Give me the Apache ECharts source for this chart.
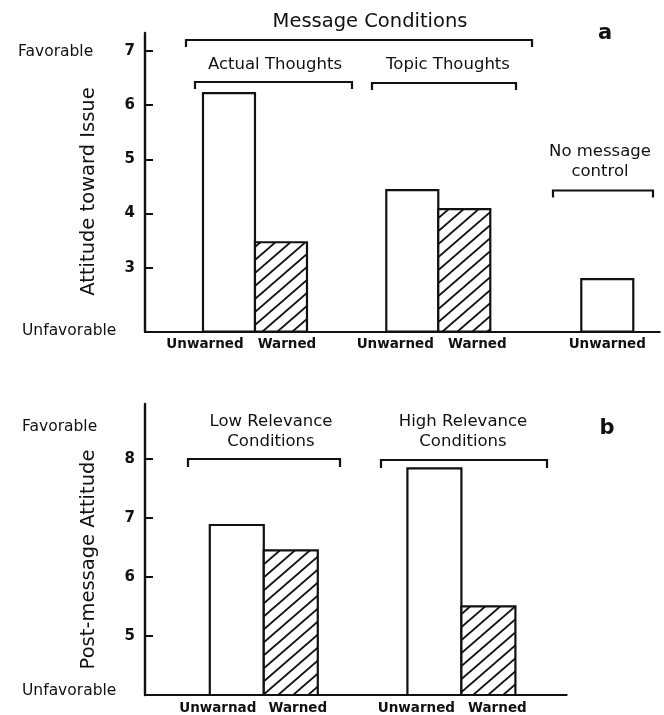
<!DOCTYPE html>
<html>
<head>
<meta charset="utf-8">
<title>Attitude by warning condition</title>
<script src="https://cdn.jsdelivr.net/npm/echarts@6/dist/echarts.min.js"></script>
<style>
  html, body { margin: 0; padding: 0; background: #fff; }
  #chart { width: 664px; height: 715px; }
</style>
</head>
<body>
<div id="chart"></div>
<script>
// ---- Panel a: attitude toward issue ----
const panelABarLabels = ['Unwarned', 'Warned', 'Unwarned', 'Warned', 'Unwarned'];
const panelAValues = [6.22, 3.47, 4.43, 4.08, 2.79];
const panelATicks = [3, 4, 5, 6, 7];
const panelAGroups = ['Actual Thoughts', 'Topic Thoughts', 'No message\ncontrol'];
const panelAOuterGroup = 'Message Conditions';
const panelAAxisName = 'Attitude toward Issue';

// ---- Panel b: post-message attitude ----
const panelBBarLabels = ['Unwarnad', 'Warned', 'Unwarned', 'Warned'];
const panelBValues = [6.88, 6.45, 7.84, 5.50];
const panelBTicks = [5, 6, 7, 8];
const panelBGroups = ['Low Relevance\nConditions', 'High Relevance\nConditions'];
const panelBAxisName = 'Post-message Attitude';

const scaleEnds = ['Favorable', 'Unfavorable'];

// ---- layout (slot positions along the hidden x axis, in bar widths) ----
const panelASlots = [1.615, 2.615, 5.14, 6.14, 8.89];
const panelBSlots = [1.70, 2.70, 5.36, 6.36];
const panelALabelShift = [-24, 6, -17, 13, 0];
const panelBLabelShift = [-19, 7, -18, 9];

const INK = '#111';
const FONT = '"DejaVu Sans", "Liberation Sans", sans-serif';

// diagonal hatch used for the warned bars
function makeHatch() {
  const w = 15, h = 13;
  const c = document.createElement('canvas');
  c.width = w; c.height = h;
  const ctx = c.getContext('2d');
  ctx.fillStyle = '#fff';
  ctx.fillRect(0, 0, w, h);
  ctx.strokeStyle = INK;
  ctx.lineWidth = 1.8;
  for (let k = -1; k <= 1; k++) {
    ctx.beginPath();
    ctx.moveTo(-w, h + k * h + h);
    ctx.lineTo(2 * w, k * h - h);
    ctx.stroke();
  }
  return c;
}
const hatch = makeHatch();

function barRenderer(yMin, labels, shifts) {
  return function (params, api) {
    const x = api.value(0);
    const v = api.value(1);
    const top = api.coord([x, v]);
    const bottom = api.coord([x, yMin]);
    const w = api.size([1, 0])[0];
    const label = labels[params.dataIndex];
    const warned = label === 'Warned';
    return {
      type: 'group',
      children: [
        {
          type: 'rect',
          shape: { x: top[0] - w / 2, y: top[1], width: w, height: bottom[1] - top[1] },
          style: {
            fill: warned ? { image: hatch, repeat: 'repeat' } : '#fff',
            stroke: INK,
            lineWidth: 2.2
          }
        },
        {
          type: 'text',
          style: {
            text: label,
            x: bottom[0] + shifts[params.dataIndex],
            y: bottom[1] + 13,
            textAlign: 'center',
            textVerticalAlign: 'middle',
            fontFamily: FONT,
            fontWeight: 'bold',
            fontSize: 13.5,
            fill: INK
          }
        }
      ]
    };
  };
}

const A_MIN = 1.82, A_MAX = 7.33;
const B_MIN = 4.0, B_MAX = 8.93;

function yAxisCfg(gridIndex, min, max, ticks) {
  return {
    type: 'value',
    gridIndex: gridIndex,
    min: min,
    max: max,
    axisLine: { show: true, lineStyle: { color: INK, width: 2.4 } },
    axisTick: { show: true, inside: true, length: 8, customValues: ticks, lineStyle: { color: INK, width: 2 } },
    axisLabel: {
      show: true, customValues: ticks, margin: 10,
      color: INK, fontFamily: FONT, fontWeight: 'bold', fontSize: 15
    },
    splitLine: { show: false }
  };
}

function xAxisCfg(gridIndex, max) {
  return {
    type: 'value',
    gridIndex: gridIndex,
    min: 0,
    max: max,
    axisLine: { show: true, onZero: false, lineStyle: { color: INK, width: 2 } },
    axisTick: { show: false },
    axisLabel: { show: false },
    splitLine: { show: false }
  };
}

function txt(text, x, y, size, opts) {
  opts = opts || {};
  return {
    type: 'text',
    x: x, y: y,
    rotation: opts.rotation || 0,
    silent: true,
    style: {
      text: text,
      x: 0, y: 0,
      textAlign: opts.align || 'center',
      textVerticalAlign: 'middle',
      fontFamily: FONT,
      fontSize: size,
      fontWeight: opts.weight || 'normal',
      lineHeight: opts.lineHeight || size * 1.2,
      fill: INK
    }
  };
}

function bracket(x1, x2, y, drop) {
  return {
    type: 'polyline',
    silent: true,
    shape: { points: [[x1, y + drop], [x1, y], [x2, y], [x2, y + drop]] },
    style: { stroke: INK, lineWidth: 2.2, fill: null }
  };
}

const chart = echarts.init(document.getElementById('chart'), null, { renderer: 'canvas' });

chart.setOption({
  backgroundColor: '#fff',
  animation: false,
  grid: [
    { left: 145, top: 33, width: 514.8, height: 298.7, outerBoundsMode: 'none' },
    { left: 145, top: 404, width: 421.7, height: 291, outerBoundsMode: 'none' }
  ],
  xAxis: [xAxisCfg(0, 9.9), xAxisCfg(1, 7.81)],
  yAxis: [yAxisCfg(0, A_MIN, A_MAX, panelATicks), yAxisCfg(1, B_MIN, B_MAX, panelBTicks)],
  series: [
    {
      type: 'custom',
      xAxisIndex: 0, yAxisIndex: 0,
      clip: false,
      renderItem: barRenderer(A_MIN, panelABarLabels, panelALabelShift),
      data: panelAValues.map((v, i) => [panelASlots[i], v])
    },
    {
      type: 'custom',
      xAxisIndex: 1, yAxisIndex: 1,
      clip: false,
      renderItem: barRenderer(B_MIN, panelBBarLabels, panelBLabelShift),
      data: panelBValues.map((v, i) => [panelBSlots[i], v])
    }
  ],
  graphic: [
    // panel a annotations
    txt(panelAOuterGroup, 370, 22, 19.5),
    bracket(186, 532, 40, 7),
    txt(panelAGroups[0], 275, 65, 16.5),
    bracket(195, 352, 82, 7),
    txt(panelAGroups[1], 448, 65, 16.5),
    bracket(372, 516, 83, 7),
    txt(panelAGroups[2], 600, 162, 16.5, { lineHeight: 20 }),
    bracket(553, 653, 190.5, 7),
    txt('a', 605, 34, 21, { weight: 'bold' }),
    txt(scaleEnds[0], 18, 52, 15.5, { align: 'left' }),
    txt(scaleEnds[1], 22, 331, 15.5, { align: 'left' }),
    txt(panelAAxisName, 89, 191.5, 19.5, { rotation: Math.PI / 2 }),

    // panel b annotations
    txt(panelBGroups[0], 271, 432, 16.5, { lineHeight: 20 }),
    bracket(188, 340, 459, 8),
    txt(panelBGroups[1], 463, 432, 16.5, { lineHeight: 20 }),
    bracket(381, 547, 460, 8),
    txt('b', 607, 429, 21, { weight: 'bold' }),
    txt(scaleEnds[0], 22, 427, 15.5, { align: 'left' }),
    txt(scaleEnds[1], 22, 691, 15.5, { align: 'left' }),
    txt(panelBAxisName, 89, 559.5, 19.5, { rotation: Math.PI / 2 })
  ]
});
</script>
</body>
</html>
